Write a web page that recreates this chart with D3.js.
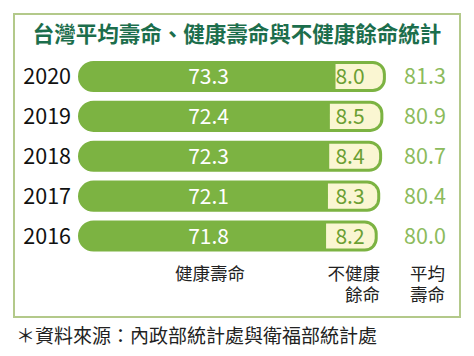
<!DOCTYPE html>
<html>
<head>
<meta charset="utf-8">
<script src="https://cdn.jsdelivr.net/npm/d3@7"></script>
<style>
html,body{margin:0;padding:0;background:#fff;}
svg{display:block;}
</style>
</head>
<body>
<svg id="chart" width="474" height="356"></svg>
<script>
const years = ["2020","2019","2018","2017","2016"];
const healthy = [73.3, 72.4, 72.3, 72.1, 71.8];
const unhealthy = [8.0, 8.5, 8.4, 8.3, 8.2];
const total = [81.3, 80.9, 80.7, 80.4, 80.0];
const title = "台灣平均壽命、健康壽命與不健康餘命統計";
const source = "＊資料來源：內政部統計處與衛福部統計處";
const colHealthy = ["健康壽命"];
const colUnhealthy = ["不健康","餘命"];
const colTotal = ["平均","壽命"];

const font = "'Noto Sans CJK TC','Noto Sans CJK SC',sans-serif";
const green = "#7cb342";
const cream = "#faf6d2";
const svg = d3.select("#chart");

// frame
svg.append("rect").attr("x",14).attr("y",14).attr("width",446).attr("height",303)
  .attr("fill","none").attr("stroke","#b3c98a").attr("stroke-width",2);

svg.append("text").attr("x",237).attr("y",42).attr("text-anchor","middle")
  .attr("font-family",font).attr("font-weight","bold").attr("font-size",21.5)
  .attr("fill","#1c6e4c").text(title);

const x = d3.scaleLinear().domain([32.4, 82]).range([78, 390.3]);
const y = d3.scaleBand().domain(years).range([56.5, 256]).paddingInner(0.22).paddingOuter(0.11);

function barPath(x0, x1, y0, h, rl, rr){
  const y1 = y0 + h;
  let p = `M${x0+rl},${y0} L${x1-rr},${y0}`;
  p += rr>0 ? ` A${rr},${rr} 0 0 1 ${x1},${y0+rr} L${x1},${y1-rr} A${rr},${rr} 0 0 1 ${x1-rr},${y1}` : ` L${x1},${y0} L${x1},${y1}`;
  p += ` L${x0+rl},${y1}`;
  p += rl>0 ? ` A${rl},${rl} 0 0 1 ${x0},${y1-rl} L${x0},${y0+rl} A${rl},${rl} 0 0 1 ${x0+rl},${y0}` : ` L${x0},${y1} L${x0},${y0}`;
  return p + "Z";
}

const sw = 3, rr = 13;
const rows = years.map((yr,i)=>({yr, h:healthy[i], u:unhealthy[i], t:total[i]}));
const g = svg.append("g");
const bh = y.bandwidth();

rows.forEach(d=>{
  const y0 = y(d.yr);
  const x0 = x(x.domain()[0]);
  const xh = x(d.h), xt = x(d.h + d.u);
  g.append("path").attr("d", barPath(x0, xt, y0, bh, bh/2, rr)).attr("fill", green);
  g.append("path").attr("d", barPath(xh, xt - sw, y0 + sw, bh - 2*sw, 0, rr - sw)).attr("fill", cream);
  const cy = y0 + bh/2;
  g.append("text").attr("x",71).attr("y",cy).attr("dy","0.36em").attr("text-anchor","end")
    .attr("font-family",font).attr("font-size",21.5).attr("fill","#111").text(d.yr);
  g.append("text").attr("x",229).attr("y",cy).attr("dy","0.36em").attr("text-anchor","end")
    .attr("font-family",font).attr("font-size",21).attr("fill","#fff").text(d.h.toFixed(1));
  g.append("text").attr("x",350).attr("y",cy).attr("dy","0.36em").attr("text-anchor","middle")
    .attr("font-family",font).attr("font-size",21).attr("fill","#6b9f33").text(d.u.toFixed(1));
  g.append("text").attr("x",425).attr("y",cy).attr("dy","0.36em").attr("text-anchor","middle")
    .attr("font-family",font).attr("font-size",21.5).attr("fill","#8cbb5c").text(d.t.toFixed(1));
});

function multi(lines, xx, anchor){
  const t = svg.append("text").attr("text-anchor",anchor)
    .attr("font-family",font).attr("font-size",17.5).attr("fill","#222");
  lines.forEach((s,i)=>{
    t.append("tspan").attr("x",xx).attr("y",280 + i*21).text(s);
  });
}
multi(colHealthy, 210, "middle");
multi(colUnhealthy, 380, "end");
multi(colTotal, 445, "end");

svg.append("text").attr("x",16).attr("y",343).attr("font-family",font).attr("font-size",19)
  .attr("fill","#222").text(source);
</script>
</body>
</html>
